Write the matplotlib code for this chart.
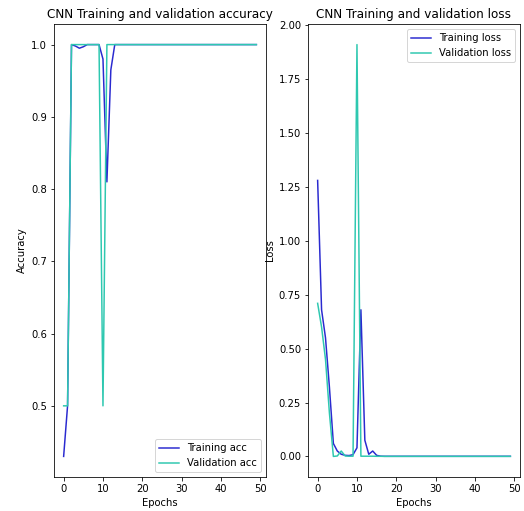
import matplotlib
matplotlib.use("Agg")
import matplotlib.pyplot as plt

epochs = list(range(50))

train_acc = [0.43, 0.50, 1.0, 0.998, 0.995, 0.997, 1.0, 1.0, 1.0, 1.0,
             0.98, 0.81, 0.965] + [1.0] * 37
val_acc = [0.50, 0.50, 1.0, 1.0, 1.0, 1.0, 1.0, 1.0, 1.0, 1.0,
           0.50] + [1.0] * 39

train_loss = [1.28, 0.68, 0.55, 0.32, 0.06, 0.025, 0.01, 0.005, 0.004, 0.008,
              0.04, 0.68, 0.075, 0.01, 0.025, 0.005, 0.001] + [0.0005] * 33
val_loss = [0.71, 0.60, 0.45, 0.20, 0.0, 0.002, 0.025, 0.002, 0.001, 0.001,
            1.91, 0.001, 0.001, 0.001, 0.001, 0.0005, 0.0005] + [0.0002] * 33

train_color = '#2a2ad0'
val_color = '#2ec8b0'

fig = plt.figure(figsize=(524 / 72, 511 / 72), dpi=72)
H = 511.0
W = 524.0
ax1 = fig.add_axes([54 / W, (H - 477) / H, (266 - 54) / W, (477 - 24) / H])
ax2 = fig.add_axes([308 / W, (H - 477) / H, (520 - 308) / W, (477 - 24) / H])

ax1.plot(epochs, train_acc, color=train_color, label='Training acc')
ax1.plot(epochs, val_acc, color=val_color, label='Validation acc')
ax1.set_title('CNN Training and validation accuracy')
ax1.set_xlabel('Epochs')
ax1.set_ylabel('Accuracy')
ax1.legend(loc='lower right')

ax2.plot(epochs, train_loss, color=train_color, label='Training loss')
ax2.plot(epochs, val_loss, color=val_color, label='Validation loss')
ax2.set_title('CNN Training and validation loss')
ax2.set_xlabel('Epochs')
ax2.set_ylabel('Loss')
ax2.legend(loc='upper right')

fig.savefig('out.png', dpi=72)
